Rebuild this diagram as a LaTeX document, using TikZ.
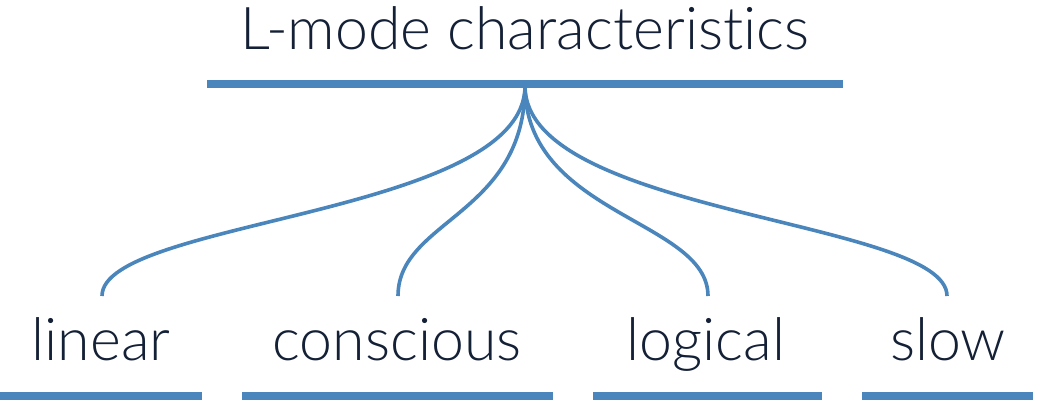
\documentclass[tikz,border=0pt]{standalone}
\usepackage{fontspec}
\setmainfont{Lato Light}[Ligatures={NoCommon}]
\definecolor{lineblue}{RGB}{74,134,188}
\definecolor{inkblue}{RGB}{20,32,54}
\tikzset{
  lbl/.style={anchor=base, inner sep=0pt, text=inkblue, font=\fontsize{59}{62}\selectfont},
  bar/.style={draw=lineblue, line width=8pt},
  link/.style={draw=lineblue, line width=3.6pt}
}
\begin{document}
\begin{tikzpicture}[x=1pt,y=-1pt]
\useasboundingbox (0,0) rectangle (1040,400);
% title
\node[lbl] (title) at (525,49) {L-mode characteristics};
\coordinate (tbL) at (207,84);
\coordinate (tbR) at (843,84);
\draw[bar] (tbL) -- (tbR);
\coordinate (root) at (525,86);
% leaves
\node[lbl] (linear) at (101,360) {linear};
\node[lbl] (conscious) at (397,360) {conscious};
\node[lbl] (logical) at (706,360) {logical};
\node[lbl] (slow) at (948,360) {slow};
\coordinate (e1) at (102,296);
\coordinate (e2) at (398,296);
\coordinate (e3) at (708,296);
\coordinate (e4) at (947,296);
\foreach \e in {e1,e2,e3,e4}
  \draw[link] (root) .. controls +(0,129) and +(0,-76) .. (\e);
% bottom bars
\coordinate (b1a) at (0,396);   \coordinate (b1b) at (202,396);
\coordinate (b2a) at (242,396); \coordinate (b2b) at (553,396);
\coordinate (b3a) at (593,396); \coordinate (b3b) at (822,396);
\coordinate (b4a) at (862,396); \coordinate (b4b) at (1033,396);
\draw[bar] (b1a) -- (b1b);
\draw[bar] (b2a) -- (b2b);
\draw[bar] (b3a) -- (b3b);
\draw[bar] (b4a) -- (b4b);
\end{tikzpicture}
\end{document}
